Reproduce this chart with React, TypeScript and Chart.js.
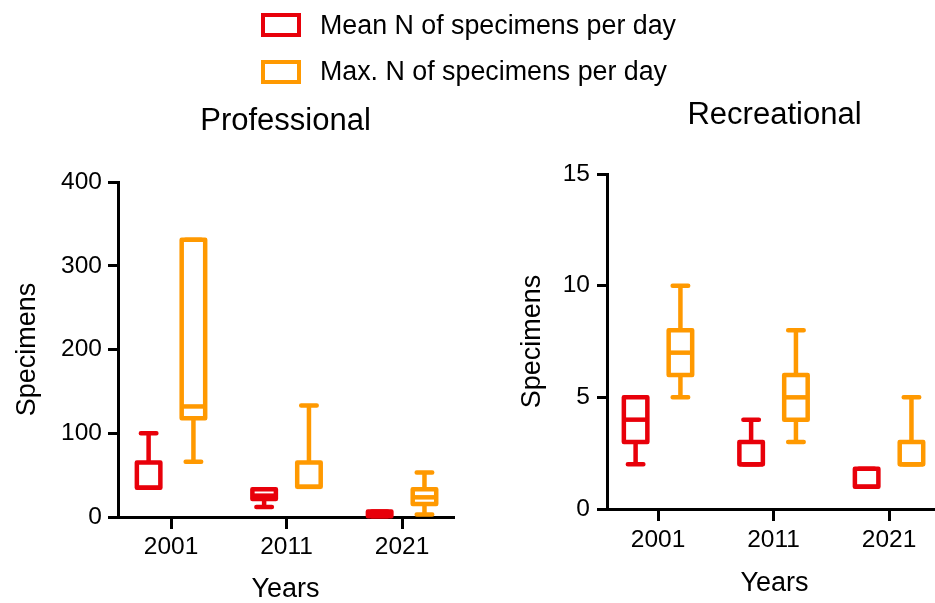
import React, { useEffect, useRef } from "react";
import { Chart, registerables } from "chart.js";

Chart.register(...registerables);

// ---------- data ----------
const YEARS = ["2001", "2011", "2021"];
const SERIES_NAMES = ["Mean N of specimens per day", "Max. N of specimens per day"];
const SERIES_COLORS = ["rgb(232,0,10)", "rgb(255,153,0)"];

// Professional – mean N per day
const PRO_MEAN_MIN = [35, 12, 1];
const PRO_MEAN_Q1 = [35, 21.5, 1];
const PRO_MEAN_MED = [35, 25.5, 4];
const PRO_MEAN_Q3 = [65, 33, 6.5];
const PRO_MEAN_MAX = [100, 33, 6.5];
// Professional – max N per day
const PRO_MAX_MIN = [66, 36, 3];
const PRO_MAX_Q1 = [118, 36, 15.5];
const PRO_MAX_MED = [132, 36, 23.5];
const PRO_MAX_Q3 = [331, 65, 33];
const PRO_MAX_MAX = [331, 133, 53];

// Recreational – mean N per day
const REC_MEAN_MIN = [2, 2, 1];
const REC_MEAN_Q1 = [3, 2, 1];
const REC_MEAN_MED = [4, 2, 1];
const REC_MEAN_Q3 = [5, 3, 1.8];
const REC_MEAN_MAX = [5, 4, 1.8];
// Recreational – max N per day
const REC_MAX_MIN = [5, 3, 2];
const REC_MAX_Q1 = [6, 4, 2];
const REC_MAX_MED = [7, 5, 2];
const REC_MAX_Q3 = [8, 6, 3];
const REC_MAX_MAX = [10, 8, 5];

const PRO_Y_TICKS = [0, 100, 200, 300, 400];
const REC_Y_TICKS = [0, 5, 10, 15];

// ---------- styles ----------
const FONT = '"Liberation Sans", Arial, Helvetica, sans-serif';
const GROUP_OFFSET = 0.194; // in category units
const BOX_HALF = 11.75; // px
const CAP_HALF = 7.75; // px
const STROKE = 4.5;

type Box = { min: number[]; q1: number[]; med: number[]; q3: number[]; max: number[] };

const PRO_SERIES: Box[] = [
  { min: PRO_MEAN_MIN, q1: PRO_MEAN_Q1, med: PRO_MEAN_MED, q3: PRO_MEAN_Q3, max: PRO_MEAN_MAX },
  { min: PRO_MAX_MIN, q1: PRO_MAX_Q1, med: PRO_MAX_MED, q3: PRO_MAX_Q3, max: PRO_MAX_MAX },
];
const REC_SERIES: Box[] = [
  { min: REC_MEAN_MIN, q1: REC_MEAN_Q1, med: REC_MEAN_MED, q3: REC_MEAN_Q3, max: REC_MEAN_MAX },
  { min: REC_MAX_MIN, q1: REC_MAX_Q1, med: REC_MAX_MED, q3: REC_MAX_Q3, max: REC_MAX_MAX },
];

type Geo = {
  canvasLeft: number;
  canvasWidth: number;
  padLeft: number;
  padRight: number;
  yWidth: number;
  xHeight: number;
  titleTop: number;
  titleBottom: number;
  xMin: number;
  xMax: number;
  xTickPad: number;
  yTickPad: number;
  xTitleBottom: number;
};

function BoxChart(props: { title: string; series: Box[]; yTicks: number[]; geo: Geo }) {
  const ref = useRef<HTMLCanvasElement | null>(null);
  useEffect(() => {
    const { series, yTicks, geo, title } = props;
    const boxPlugin = {
      id: "boxplots",
      afterDraw(chart: any) {
        const { ctx } = chart;
        const x = chart.scales.x;
        const y = chart.scales.y;
        ctx.save();
        series.forEach((s, si) => {
          const color = SERIES_COLORS[si];
          const off = si === 0 ? -GROUP_OFFSET : GROUP_OFFSET;
          YEARS.forEach((_, i) => {
            const cx = x.getPixelForValue(i + off);
            const pMin = y.getPixelForValue(s.min[i]);
            const pQ1 = y.getPixelForValue(s.q1[i]);
            const pMed = y.getPixelForValue(s.med[i]);
            const pQ3 = y.getPixelForValue(s.q3[i]);
            const pMax = y.getPixelForValue(s.max[i]);
            ctx.strokeStyle = color;
            ctx.lineWidth = STROKE;
            ctx.lineCap = "round";
            ctx.lineJoin = "round";
            // whiskers
            ctx.beginPath();
            ctx.moveTo(cx, pQ3);
            ctx.lineTo(cx, pMax);
            ctx.moveTo(cx - CAP_HALF, pMax);
            ctx.lineTo(cx + CAP_HALF, pMax);
            ctx.moveTo(cx, pQ1);
            ctx.lineTo(cx, pMin);
            ctx.moveTo(cx - CAP_HALF, pMin);
            ctx.lineTo(cx + CAP_HALF, pMin);
            ctx.stroke();
            // box
            ctx.fillStyle = "#fff";
            ctx.fillRect(cx - BOX_HALF, pQ3, BOX_HALF * 2, pQ1 - pQ3);
            ctx.beginPath();
            ctx.rect(cx - BOX_HALF, pQ3, BOX_HALF * 2, pQ1 - pQ3);
            ctx.stroke();
            // median
            ctx.lineCap = "butt";
            ctx.beginPath();
            ctx.moveTo(cx - BOX_HALF, pMed);
            ctx.lineTo(cx + BOX_HALF, pMed);
            ctx.stroke();
          });
        });
        ctx.restore();
      },
    };

    const chart = new Chart(ref.current as HTMLCanvasElement, {
      type: "scatter",
      data: { datasets: [] },
      options: {
        animation: false,
        responsive: false,
        maintainAspectRatio: false,
        events: [],
        layout: { padding: { left: geo.padLeft, right: geo.padRight, top: 0, bottom: 0 } },
        plugins: {
          legend: { display: false },
          tooltip: { enabled: false },
          title: {
            display: true,
            text: title,
            fullSize: false,
            color: "#000",
            font: { family: FONT, size: 31, weight: "normal", lineHeight: 1.2 },
            padding: { top: geo.titleTop, bottom: geo.titleBottom },
          },
        },
        scales: {
          x: {
            type: "linear",
            min: geo.xMin,
            max: geo.xMax,
            offset: false,
            afterBuildTicks: (s: any) => {
              s.ticks = YEARS.map((_, i) => ({ value: i }));
            },
            afterFit: (s: any) => {
              s.height = geo.xHeight;
            },
            grid: {
              display: true,
              drawOnChartArea: false,
              drawTicks: true,
              tickLength: 12,
              lineWidth: 3,
              color: "#000",
              offset: false,
            },
            border: { display: true, width: 3, color: "#000" },
            ticks: {
              autoSkip: false,
              maxRotation: 0,
              color: "#000",
              padding: geo.xTickPad,
              font: { family: FONT, size: 24.5 },
              callback: (v: any) => YEARS[Math.round(Number(v))] ?? "",
            },
            title: {
              display: true,
              text: "Years",
              color: "#000",
              font: { family: FONT, size: 27, lineHeight: 1 },
              padding: { top: 0, bottom: geo.xTitleBottom },
            },
          },
          y: {
            type: "linear",
            min: yTicks[0],
            max: yTicks[yTicks.length - 1],
            afterBuildTicks: (s: any) => {
              s.ticks = yTicks.map((v) => ({ value: v }));
            },
            afterFit: (s: any) => {
              s.width = geo.yWidth;
            },
            grid: {
              display: true,
              drawOnChartArea: false,
              drawTicks: true,
              tickLength: 10,
              lineWidth: 3,
              color: "#000",
            },
            border: { display: true, width: 3, color: "#000" },
            ticks: {
              color: "#000",
              padding: geo.yTickPad,
              font: { family: FONT, size: 24.5 },
            },
            title: {
              display: true,
              text: "Specimens",
              color: "#000",
              font: { family: FONT, size: 27, lineHeight: 1.2 },
              padding: { top: 0, bottom: 0 },
            },
          },
        },
      } as any,
      plugins: [boxPlugin],
    });
    return () => chart.destroy();
  }, []);
  const g = props.geo;
  return (
    <canvas
      ref={ref}
      width={g.canvasWidth}
      height={603}
      style={{ position: "absolute", left: g.canvasLeft, top: 0, width: g.canvasWidth, height: 603 }}
    />
  );
}

const PRO_GEO: Geo = {
  canvasLeft: 0,
  canvasWidth: 470,
  padLeft: 11.3,
  padRight: 17,
  yWidth: 106.7,
  xHeight: 86,
  titleTop: 102.4,
  titleBottom: 42.4,
  xMin: -0.459,
  xMax: 2.441,
  xTickPad: 4,
  yTickPad: 6,
  xTitleBottom: 0,
};

const REC_GEO: Geo = {
  canvasLeft: 470,
  canvasWidth: 490,
  padLeft: 46.3,
  padRight: 18,
  yWidth: 90.7,
  xHeight: 94,
  titleTop: 96.4,
  titleBottom: 40.4,
  xMin: -0.4416,
  xMax: 2.4584,
  xTickPad: 5,
  yTickPad: 7,
  xTitleBottom: 6,
};

function Legend() {
  const rows = [
    { top: 9.8, boxTop: 13 },
    { top: 55.5, boxTop: 60 },
  ];
  return (
    <>
      {SERIES_NAMES.map((name, i) => (
        <React.Fragment key={name}>
          <div
            style={{
              position: "absolute",
              left: 261,
              top: rows[i].boxTop,
              width: 40,
              height: 24,
              boxSizing: "border-box",
              border: `4.5px solid ${SERIES_COLORS[i]}`,
              background: "#fff",
            }}
          />
          <div
            style={{
              position: "absolute",
              left: 320,
              top: rows[i].top,
              font: `26.8px ${FONT}`,
              lineHeight: "30px",
              color: "#000",
              whiteSpace: "nowrap",
            }}
          >
            {name}
          </div>
        </React.Fragment>
      ))}
    </>
  );
}

export default function App() {
  return (
    <div
      style={{
        position: "absolute",
        left: 0,
        top: 0,
        width: 935,
        height: 603,
        overflow: "hidden",
        background: "#fff",
      }}
    >
      <BoxChart title="Professional" series={PRO_SERIES} yTicks={PRO_Y_TICKS} geo={PRO_GEO} />
      <BoxChart title="Recreational" series={REC_SERIES} yTicks={REC_Y_TICKS} geo={REC_GEO} />
      <Legend />
    </div>
  );
}
